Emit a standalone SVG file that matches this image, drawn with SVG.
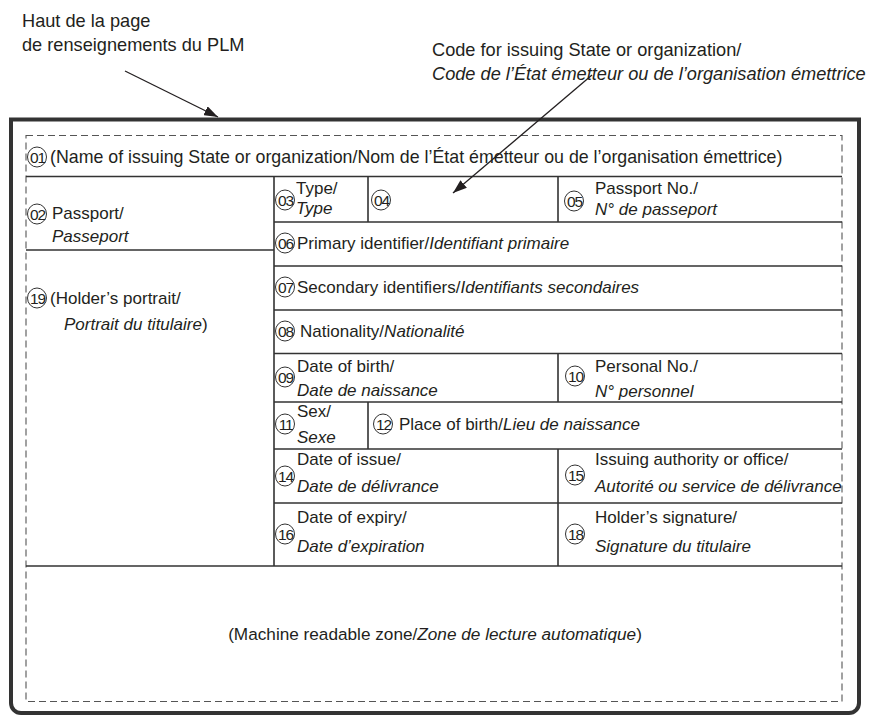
<svg xmlns="http://www.w3.org/2000/svg" width="883" height="715" viewBox="0 0 883 715">
<style>
text{font-family:"Liberation Sans",Arial,sans-serif;fill:#231f20}
.t{font-size:17px}
.w{font-size:17.8px}
.big{font-size:18.2px}
.i{font-style:italic}
.n{font-size:15.5px;letter-spacing:-1.2px;text-anchor:middle}
.c{fill:none;stroke:#333;stroke-width:1}
.g{stroke:#333;stroke-width:1.6;fill:none}
.d{stroke:#555;stroke-width:1.1;fill:none;stroke-dasharray:7 4}
.frame{stroke:#333;stroke-width:4;fill:none}
.a{stroke:#231f20;stroke-width:1.3;fill:none;marker-end:url(#ah)}
</style>
<defs>
<marker id="ah" viewBox="0 0 14 10" refX="14" refY="5" markerWidth="14" markerHeight="10" markerUnits="userSpaceOnUse" orient="auto">
<path d="M0,0 L14,5 L0,10 Z" fill="#231f20"/>
</marker>
</defs>
<rect width="883" height="715" fill="#fff"/>

<g id="page-frame">
<path class="frame" d="M11,119.5 H859 V703 A10,10 0 0 1 849,713 H21 A10,10 0 0 1 11,703 Z"/>
<rect class="d" x="26" y="135.5" width="816" height="566"/>
</g>

<g id="grid">
<path class="g" d="M26,176.5 H842 M26,250 H274 M274,222 H842 M274,266 H842 M274,310 H842 M274,353.5 H842 M274,402 H842 M274,449 H842 M274,503 H842 M26,566 H842"/>
<path class="g" d="M274,176.5 V566 M368,176.5 V222 M558,176.5 V222 M558,353.5 V402 M368,402 V449 M558,449 V566"/>
</g>

<g id="label-top-left">
<text class="big" x="22" y="27">Haut de la page</text>
<text class="big" x="22" y="51">de renseignements du PLM</text>
</g>
<g id="label-top-right">
<text class="big" x="432" y="56">Code for issuing State or organization/</text>
<text class="big i" x="432" y="80">Code de l’État émetteur ou de l’organisation émettrice</text>
</g>

<g id="connectors">
<line class="a" x1="125" y1="71" x2="218" y2="117"/>
<line class="a" x1="592" y1="75" x2="453" y2="193"/>
</g>

<g id="f01">
<ellipse class="c" cx="37" cy="157" rx="9.5" ry="10"/><text class="n" x="37.5" y="162.5">01</text>
<text class="w" x="50" y="163">(Name of issuing State or organization/Nom de l’État émetteur ou de l’organisation émettrice)</text>
</g>
<g id="f02">
<ellipse class="c" cx="37" cy="214" rx="9.5" ry="10"/><text class="n" x="37.5" y="219.5">02</text>
<text class="t" x="52" y="219">Passport/</text>
<text class="t i" x="52" y="242">Passeport</text>
</g>
<g id="f03">
<ellipse class="c" cx="285" cy="200" rx="9.5" ry="10"/><text class="n" x="285.5" y="205.5">03</text>
<text class="t" x="296" y="194">Type/</text>
<text class="t i" x="296" y="214">Type</text>
</g>
<g id="f04">
<ellipse class="c" cx="381" cy="200" rx="9.5" ry="10"/><text class="n" x="381.5" y="205.5">04</text>
</g>
<g id="f05">
<ellipse class="c" cx="574" cy="201" rx="9.5" ry="10"/><text class="n" x="574.5" y="206.5">05</text>
<text class="t" x="595" y="194">Passport No./</text>
<text class="t i" x="595" y="215">N° de passeport</text>
</g>
<g id="f06">
<ellipse class="c" cx="285" cy="243" rx="9.5" ry="10"/><text class="n" x="285.5" y="248.5">06</text>
<text class="t" x="297" y="249">Primary identifier/<tspan class="i">Identifiant primaire</tspan></text>
</g>
<g id="f07">
<ellipse class="c" cx="285" cy="287" rx="9.5" ry="10"/><text class="n" x="285.5" y="292.5">07</text>
<text class="t" x="297" y="293">Secondary identifiers/<tspan class="i">Identifiants secondaires</tspan></text>
</g>
<g id="f08">
<ellipse class="c" cx="285" cy="331" rx="9.5" ry="10"/><text class="n" x="285.5" y="336.5">08</text>
<text class="t" x="300" y="337">Nationality/<tspan class="i">Nationalité</tspan></text>
</g>
<g id="f09">
<ellipse class="c" cx="285" cy="377" rx="9.5" ry="10"/><text class="n" x="285.5" y="382.5">09</text>
<text class="t" x="297" y="372">Date of birth/</text>
<text class="t i" x="297" y="396">Date de naissance</text>
</g>
<g id="f10">
<ellipse class="c" cx="575" cy="376" rx="9.5" ry="10"/><text class="n" x="575.5" y="381.5">10</text>
<text class="t" x="595" y="372">Personal No./</text>
<text class="t i" x="595" y="397">N° personnel</text>
</g>
<g id="f11">
<ellipse class="c" cx="285" cy="424" rx="9.5" ry="10"/><text class="n" x="285.5" y="429.5">11</text>
<text class="t" x="297" y="417">Sex/</text>
<text class="t i" x="297" y="443">Sexe</text>
</g>
<g id="f12">
<ellipse class="c" cx="383" cy="424" rx="9.5" ry="10"/><text class="n" x="383.5" y="429.5">12</text>
<text class="t" x="399" y="430">Place of birth/<tspan class="i">Lieu de naissance</tspan></text>
</g>
<g id="f14">
<ellipse class="c" cx="285" cy="476" rx="9.5" ry="10"/><text class="n" x="285.5" y="481.5">14</text>
<text class="t" x="297" y="465">Date of issue/</text>
<text class="t i" x="297" y="492">Date de délivrance</text>
</g>
<g id="f15">
<ellipse class="c" cx="575" cy="475" rx="9.5" ry="10"/><text class="n" x="575.5" y="480.5">15</text>
<text class="t" x="595" y="465">Issuing authority or office/</text>
<text class="t i" x="595" y="492">Autorité ou service de délivrance</text>
</g>
<g id="f16">
<ellipse class="c" cx="285" cy="534" rx="9.5" ry="10"/><text class="n" x="285.5" y="539.5">16</text>
<text class="t" x="297" y="523">Date of expiry/</text>
<text class="t i" x="297" y="552">Date d’expiration</text>
</g>
<g id="f18">
<ellipse class="c" cx="575" cy="534" rx="9.5" ry="10"/><text class="n" x="575.5" y="539.5">18</text>
<text class="t" x="595" y="523">Holder’s signature/</text>
<text class="t i" x="595" y="552">Signature du titulaire</text>
</g>
<g id="f19">
<ellipse class="c" cx="37" cy="298" rx="9.5" ry="10"/><text class="n" x="37.5" y="303.5">19</text>
<text class="t" x="50" y="304">(Holder’s portrait/</text>
<text class="t" x="64" y="330"><tspan class="i">Portrait du titulaire</tspan>)</text>
</g>
<g id="mrz">
<text class="t" x="435" y="640" text-anchor="middle" style="font-size:17.2px">(Machine readable zone/<tspan class="i">Zone de lecture automatique</tspan>)</text>
</g>
</svg>
